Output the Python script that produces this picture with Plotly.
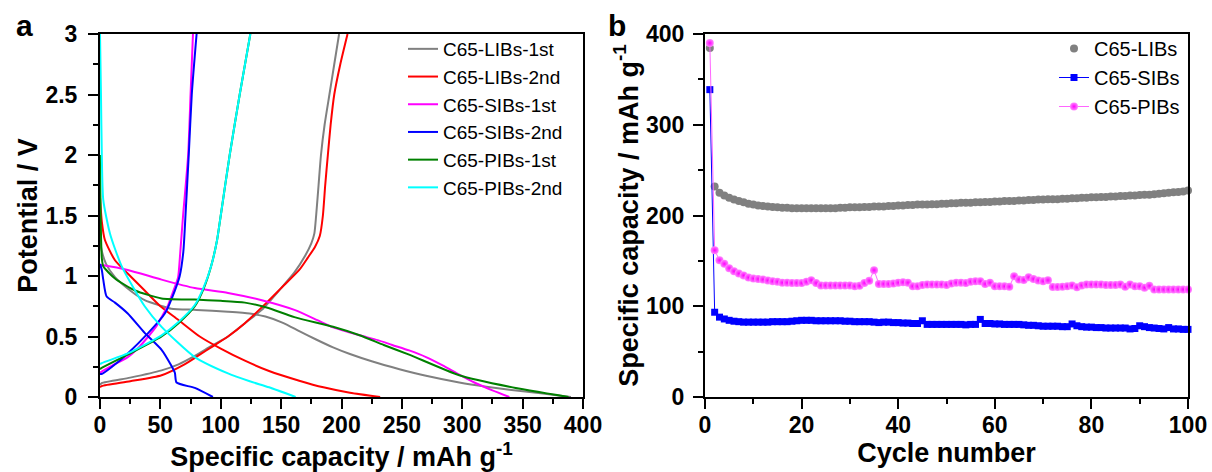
import plotly.graph_objects as go

# ---------------- Panel a: charge/discharge profiles ----------------
# LIBs 1st cycle (gray)
lib1_dis_cap = [0, 0, 1.4, 5, 12.4, 25, 37, 50, 59, 80, 106, 124, 137, 151, 165, 179, 193, 207, 225, 248, 270, 297.5, 320, 339, 365, 390]
lib1_dis_v = [1.45, 1.3, 1.21, 1.10, 0.99, 0.88, 0.80, 0.755, 0.73, 0.72, 0.705, 0.69, 0.665, 0.615, 0.545, 0.475, 0.41, 0.355, 0.295, 0.23, 0.175, 0.12, 0.085, 0.06, 0.03, 0.0]
lib1_chg_cap = [0, 1.4, 25, 51, 65, 78.5, 92, 106, 120, 134, 150, 161, 170, 175, 177.5, 179, 181, 183, 186, 190, 194, 198]
lib1_chg_v = [0.10, 0.115, 0.16, 0.22, 0.27, 0.34, 0.42, 0.50, 0.61, 0.72, 0.90, 1.03, 1.17, 1.27, 1.35, 1.5, 1.75, 2.0, 2.25, 2.5, 2.75, 3.0]
# LIBs 2nd cycle (red)
lib2_dis_cap = [0, 1.5, 4, 12.4, 25, 37, 50, 64.5, 82.6, 100, 120, 140, 165, 185, 207, 232]
lib2_dis_v = [1.65, 1.45, 1.30, 1.13, 1.0, 0.88, 0.75, 0.64, 0.50, 0.40, 0.30, 0.215, 0.135, 0.08, 0.035, 0.0]
lib2_chg_cap = [0, 1.4, 25, 51, 70, 82.6, 92, 106, 120, 138, 150, 165, 172, 178, 182, 184.6, 186.5, 188.7, 191, 194, 199, 205]
lib2_chg_v = [0.08, 0.09, 0.13, 0.18, 0.27, 0.35, 0.41, 0.50, 0.61, 0.78, 0.90, 1.05, 1.15, 1.24, 1.33, 1.5, 1.75, 2.0, 2.25, 2.5, 2.75, 3.0]
# SIBs 1st cycle (magenta)
sib1_dis_cap = [0, 5, 23, 51, 78.5, 106, 134, 161, 180, 193, 215, 230, 242, 256, 270, 285, 297.5, 310, 325, 339]
sib1_dis_v = [1.09, 1.085, 1.05, 0.97, 0.90, 0.86, 0.80, 0.72, 0.635, 0.575, 0.51, 0.47, 0.43, 0.385, 0.33, 0.255, 0.185, 0.12, 0.055, 0.0]
sib1_chg_cap = [0, 1.4, 10, 23, 33, 40, 47, 51, 56, 59, 62, 64.7, 66.5, 68.8, 73, 75, 77]
sib1_chg_v = [0.20, 0.21, 0.26, 0.33, 0.42, 0.50, 0.59, 0.66, 0.75, 0.83, 0.91, 0.99, 1.2, 1.5, 2.0, 2.5, 3.0]
# SIBs 2nd cycle (blue)
sib2_dis_cap = [0, 1.5, 2.7, 5.5, 12.4, 23, 37, 51, 59, 62, 63.4, 78.5, 93.5]
sib2_dis_v = [1.10, 1.05, 0.97, 0.83, 0.78, 0.69, 0.53, 0.39, 0.26, 0.20, 0.12, 0.075, 0.0]
sib2_chg_cap = [0, 1.4, 10, 23, 40, 53.7, 62, 66, 69, 70.8, 73.5, 76, 80]
sib2_chg_v = [0.19, 0.19, 0.25, 0.36, 0.53, 0.69, 0.88, 1.0, 1.2, 1.5, 2.0, 2.5, 3.0]
# PIBs 1st cycle (green)
pib1_dis_cap = [0, 0.5, 1.5, 2.7, 12.4, 29, 51, 78.5, 100, 120, 138, 161, 193, 215, 235, 256, 297.5, 339, 388]
pib1_dis_v = [2.0, 1.5, 1.15, 1.08, 0.98, 0.88, 0.815, 0.805, 0.795, 0.78, 0.74, 0.66, 0.58, 0.51, 0.43, 0.35, 0.18, 0.085, 0.0]
pib1_chg_cap = [0, 1.4, 23, 51, 65, 78.5, 86, 92, 97, 100, 107.4, 115.7, 124.5]
pib1_chg_v = [0.23, 0.24, 0.35, 0.50, 0.61, 0.75, 0.90, 1.08, 1.3, 1.5, 2.0, 2.5, 3.0]
# PIBs 2nd cycle (cyan)
pib2_dis_cap = [0, 0.8, 1.5, 2.7, 8.3, 18, 37, 51, 78.5, 106, 124, 140, 162]
pib2_dis_v = [3.0, 2.5, 2.0, 1.63, 1.35, 1.08, 0.75, 0.58, 0.33, 0.195, 0.13, 0.08, 0.0]
pib2_chg_cap = [0, 1.4, 23, 51, 65, 78.5, 86, 92, 97, 100, 107.4, 115.7, 124.5]
pib2_chg_v = [0.27, 0.28, 0.36, 0.51, 0.62, 0.76, 0.91, 1.08, 1.3, 1.5, 2.0, 2.5, 3.0]

series_a = [
    ("C65-LIBs-1st", "#808080", lib1_dis_cap, lib1_dis_v, lib1_chg_cap, lib1_chg_v),
    ("C65-LIBs-2nd", "#ff0000", lib2_dis_cap, lib2_dis_v, lib2_chg_cap, lib2_chg_v),
    ("C65-SIBs-1st", "#ff00ff", sib1_dis_cap, sib1_dis_v, sib1_chg_cap, sib1_chg_v),
    ("C65-SIBs-2nd", "#0000ff", sib2_dis_cap, sib2_dis_v, sib2_chg_cap, sib2_chg_v),
    ("C65-PIBs-1st", "#008000", pib1_dis_cap, pib1_dis_v, pib1_chg_cap, pib1_chg_v),
    ("C65-PIBs-2nd", "#00ffff", pib2_dis_cap, pib2_dis_v, pib2_chg_cap, pib2_chg_v),
]

# ---------------- Panel b: cycling performance ----------------
cycles = list(range(1, 101))
libs_cap = [384.6, 232, 225, 222, 219.5, 217.5, 216, 214.5, 213, 212,
            211, 210.5, 210, 209.5, 209, 208.5, 208.5, 208, 208, 208,
            208, 208, 208, 208, 208, 208, 208, 208.5, 208.5, 209,
            209, 209, 209.5, 209.5, 210, 210, 210, 210.5, 210.5, 211,
            211, 211.5, 211.5, 212, 212, 212, 212.5, 212.5, 213, 213,
            213.5, 213.5, 214, 214, 214, 214.5, 214.5, 215, 215, 215.5,
            215.5, 216, 216, 216, 216.5, 216.5, 217, 217, 217.5, 217.5,
            218, 218, 218, 218.5, 218.5, 219, 219, 219.5, 219.5, 220,
            220, 220.5, 220.5, 221, 221, 221.5, 221.5, 222, 222, 222.5,
            223, 223, 223.5, 224, 224.5, 225, 225.5, 226, 226.5, 227.5]
sibs_cap = [338.7, 93.4, 88, 86, 84.5, 83.5, 83, 82.5, 82.5, 82.5,
            82.5, 82.5, 82.5, 83, 83, 83, 83, 83.5, 84, 84.5,
            84.5, 84.5, 84, 84, 84, 84, 84, 84, 83.5, 83.5,
            83, 83, 83, 83, 82.5, 82, 82.5, 82.5, 82, 82,
            81.5, 81.5, 81, 81, 84, 80, 80, 80, 80, 80,
            80, 80, 80, 79.5, 80, 80, 85.5, 81, 81, 80.5,
            80.5, 80, 80, 80, 80, 79.5, 79, 79, 78.5, 78,
            78, 78, 78, 77.5, 77.5, 80.5, 78.5, 77.5, 77, 77,
            76.5, 76.5, 76, 76, 76, 76, 76, 75, 75.5, 78.5,
            77.5, 76.5, 76, 75.5, 75, 76.5, 75, 75, 74.5, 74.5]
pibs_cap = [390, 161.8, 150.7, 146.7, 142, 138.6, 136, 134, 131.6, 130.5,
            130, 129.4, 128.5, 127.6, 127, 126, 126, 125.7, 125.7, 125.5,
            127, 128.7, 125.5, 123, 123, 123, 123, 123, 123, 123,
            122, 122.5, 125.7, 128, 139.7, 124.6, 124.6, 124.6, 125, 126,
            126.5, 126, 122, 122, 123.5, 124, 124, 124, 124, 123.5,
            125, 126, 126, 125.5, 127, 127.5, 127.5, 124.5, 126, 122,
            122, 122, 121.5, 133, 129.4, 129, 132, 130, 128.5, 127.6,
            128.7, 121.3, 121.3, 121.5, 122, 122.8, 121, 123, 124, 124,
            124, 124, 123.5, 123.5, 123.5, 124, 121.5, 124, 122, 122,
            120.5, 122.5, 118.5, 118.5, 118.5, 118.5, 118.5, 118.5, 118.5, 118.5]

FONT = "Liberation Sans, Arial, sans-serif"

fig = go.Figure()
for name, color, dc, dv, cc, cv in series_a:
    fig.add_trace(go.Scatter(
        x=dc + [None] + cc, y=dv + [None] + cv, mode="lines", name=name,
        line=dict(color=color, width=2, shape="spline", smoothing=0.6),
        connectgaps=False, xaxis="x", yaxis="y", legend="legend"))

fig.add_trace(go.Scatter(
    x=cycles, y=libs_cap, mode="markers", name="C65-LIBs",
    marker=dict(color="#808080", size=8, symbol="circle"),
    xaxis="x2", yaxis="y2", legend="legend2", cliponaxis=False))
fig.add_trace(go.Scatter(
    x=cycles, y=sibs_cap, mode="lines+markers", name="C65-SIBs",
    line=dict(color="#0000ff", width=1),
    marker=dict(color="#0000ff", size=7, symbol="square"),
    xaxis="x2", yaxis="y2", legend="legend2", cliponaxis=False))
fig.add_trace(go.Scatter(
    x=cycles, y=pibs_cap, mode="lines+markers", name="C65-PIBs",
    line=dict(color="#ff66ff", width=1),
    marker=dict(color="#ff88ff", size=8, symbol="circle",
                gradient=dict(type="radial", color="#ff00ff")),
    xaxis="x2", yaxis="y2", legend="legend2", cliponaxis=False))

tickfont = dict(family=FONT, size=23, color="black", weight="bold")
titlefont = dict(family=FONT, size=27, color="black", weight="bold")

def axis_common():
    return dict(showline=True, linewidth=2, linecolor="black", mirror=True,
                ticks="outside", ticklen=10, tickwidth=2, tickcolor="black",
                showgrid=False, zeroline=False, tickfont=tickfont, automargin=False)

minor_style = dict(ticks="outside", ticklen=5, tickwidth=2, tickcolor="black")

ya = (472 - 397) / 472
yb = (472 - 34) / 472

fig.update_layout(
    width=1212, height=472, autosize=False,
    margin=dict(l=0, r=0, t=0, b=0),
    paper_bgcolor="white", plot_bgcolor="white",
    showlegend=True,
    xaxis=dict(domain=[100 / 1212, 583 / 1212], range=[0, 400], tickmode="linear", tick0=0, dtick=50,
               minor=dict(dtick=25, **minor_style), ticklabelstandoff=-4,
               title=dict(text="Specific capacity / mAh g<sup>-1</sup>", font=titlefont, standoff=7),
               layer="below traces", anchor="y", **axis_common()),
    yaxis=dict(domain=[ya, yb], range=[0, 3], tickmode="linear", tick0=0, dtick=0.5,
               minor=dict(dtick=0.25, **minor_style), ticklabelstandoff=6,
               title=dict(text="Potential / V", font=titlefont, standoff=0),
               layer="below traces", anchor="x", **axis_common()),
    xaxis2=dict(domain=[705 / 1212, 1188 / 1212], range=[0, 100], tickmode="linear", tick0=0, dtick=20,
                minor=dict(dtick=10, **minor_style), ticklabelstandoff=-4,
                title=dict(text="Cycle number", font=titlefont, standoff=7),
                anchor="y2", **axis_common()),
    yaxis2=dict(domain=[ya, yb], range=[0, 400], tickmode="linear", tick0=0, dtick=100,
                minor=dict(dtick=50, **minor_style), ticklabelstandoff=4,
                title=dict(text="Specific capacity / mAh g<sup>-1</sup>", font=titlefont, standoff=0),
                anchor="x2", **axis_common()),
    legend=dict(x=403 / 1212, y=1 - 30 / 472, xanchor="left", yanchor="top",
                bgcolor="rgba(0,0,0,0)", borderwidth=0,
                font=dict(family=FONT, size=19, color="black"), tracegroupgap=0),
    legend2=dict(x=1054 / 1212, y=1 - 29 / 472, xanchor="left", yanchor="top",
                 bgcolor="rgba(0,0,0,0)", borderwidth=0,
                 font=dict(family=FONT, size=20, color="black"), tracegroupgap=0),
    annotations=[
        dict(text="a", x=24 / 1212, y=1 - 26 / 472, xref="paper", yref="paper",
             xanchor="center", yanchor="middle", showarrow=False,
             font=dict(family=FONT, size=30, color="black", weight="bold")),
        dict(text="b", x=617 / 1212, y=1 - 26 / 472, xref="paper", yref="paper",
             xanchor="center", yanchor="middle", showarrow=False,
             font=dict(family=FONT, size=30, color="black", weight="bold")),
    ],
)

fig.write_html("out.html")
